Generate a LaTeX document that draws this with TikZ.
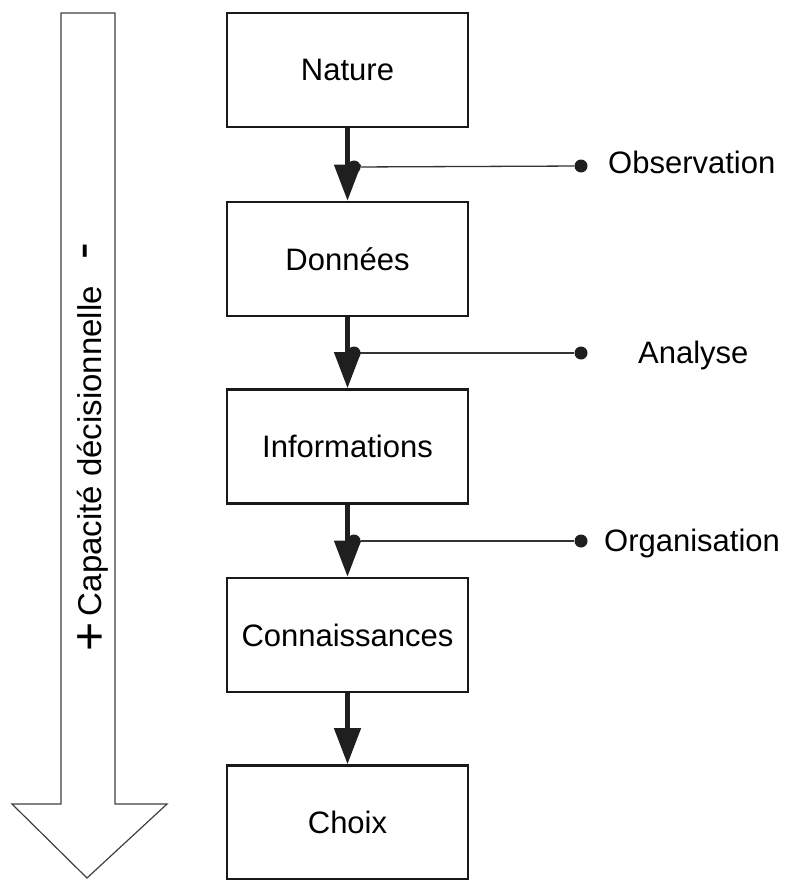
\documentclass[tikz,border=0pt]{standalone}
\usepackage{fontspec}
\setmainfont{Liberation Sans}
\usetikzlibrary{arrows.meta}
\tikzset{
  box/.style={draw=black!90, line width=2.6pt, minimum width=241pt, minimum height=114pt, inner sep=0pt, font=\fontsize{31}{36}\selectfont},
  flow/.style={line width=4.5pt, draw=black!88, -{Triangle[length=36pt,width=26pt]}},
  tie/.style={line width=1.3pt, draw=black!80},
  dot/.style={circle, fill=black!88, inner sep=0pt, minimum size=13pt},
  lab/.style={anchor=base west, inner sep=0pt, font=\fontsize{31}{36}\selectfont},
  sidetext/.style={rotate=90, inner sep=0pt, font=\fontsize{33}{38}\selectfont},
  sign/.style={rotate=90, inner sep=0pt, font=\fontsize{50}{56}\selectfont},
  bigarrow/.style={draw=black!75, line width=1.2pt, fill=white}
}
\begin{document}
\begin{tikzpicture}[x=1pt,y=-1pt]
\useasboundingbox (0,0) rectangle (789,880);
% big left arrow
\draw[bigarrow] (61,13) -- (115,13) -- (115,804) -- (167,804) -- (87,878) -- (12,804) -- (61,804) -- cycle;
\node[sidetext] (cap) at (93,451) {Capacité décisionnelle};
\node[sign] (plus) at (92,637) {+};
\node[sign] (minus) at (91,251) {-};
% boxes
\node[box] (nat) at (347.5,70) {Nature};
\node[box] (don) at (347.5,259) {Données};
\node[box] (inf) at (347.5,446.5) {Informations};
\node[box] (con) at (347.5,635) {Connaissances};
\node[box] (cho) at (347.5,822.5) {Choix};
% flows
\draw[flow] (nat.south) -- (don.north);
\draw[flow] (don.south) -- (inf.north);
\draw[flow] (inf.south) -- (con.north);
\draw[flow] (con.south) -- (cho.north);
% ties
\node[dot] (d1a) at (354,167) {};
\node[dot] (d1b) at (581,166) {};
\draw[tie] (d1a) -- (d1b);
\node[lab] (l1) at (608,173) {Observation};
\node[dot] (d2a) at (354,353) {};
\node[dot] (d2b) at (581,353) {};
\draw[tie] (d2a) -- (d2b);
\node[lab] (l2) at (638,363) {Analyse};
\node[dot] (d3a) at (354,541) {};
\node[dot] (d3b) at (581,541) {};
\draw[tie] (d3a) -- (d3b);
\node[lab] (l3) at (604,551) {Organisation};
\end{tikzpicture}
\end{document}
